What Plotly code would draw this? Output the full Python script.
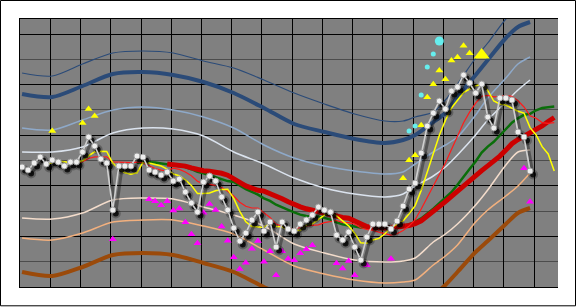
import plotly.graph_objects as go

# ---------------- data (values in chart units; x = bar index) ----------------
price = [120,117,124,130,123,127,125,121,125,125,
         135,150,141,128,124,77,121,121,121,131,
         130,117,115,112,115,106,108,95,84,75,
         105,111,106,90,77,59,46,54,67,75,
         56,65,40,65,58,56,63,67,72,80,
         77,75,52,47,55,40,27,50,63,63,
         63,58,66,81,98,104,134,161,174,186,
         178,196,200,212,204,194,203,170,159,189,
         189,187,155,150,116]
price_x = list(range(len(price)))

ma_yellow = [122.8,124.2,125.8,125.2,124.2,124.6,
             126.2,131.2,135.2,135.8,135.6,124,118.2,114.2,112.8,114.2,
             124.8,124,122.8,121,117.8,113,111.2,107.2,101.6,93.6,
             93.4,94,96.2,97.4,97.8,88.6,75.6,65.2,60.6,60.2,
             59.6,63.4,60.6,60.2,56.8,56.8,56.4,61.8,63.2,67.6,
             71.8,74.2,71.2,66.2,61.2,53.8,44.2,43.8,47,48.6,
             53.2,59.4,62.6,66.2,73.2,81.4,96.6,115.6,134.2,151.8,
             166.6,179,186.8,194.4,198,201.2,202.6,196.6,186,183,
             182,178.8,175.8,174,159.4,
             152,140.3,133,116]
ma_yellow_x = list(range(4, 4 + len(ma_yellow)))

ma_red_thin = [123.7,
               125.2,128.5,130.2,130,130.1,125.1,124.7,124.7,124.3,124.9,
               124.4,121.1,118.5,116.9,116,118.9,117.6,115,111.3,105.7,
               103.2,102.6,101.7,99.5,95.7,91,84.8,80.7,79,79,
               74.1,69.5,62.9,60.4,58.5,58.2,59.9,61.2,61.7,62.2,
               64.3,65.3,66.5,64.7,64.4,62.8,59.2,57.5,56.6,54.9,
               53.5,51.8,53.2,56.6,60.9,67.3,78,89.1,100.2,112.5,
               124,137.8,151.2,164.3,174.9,183.9,190.8,191.7,190.2,190.5,
               191.6,190.7,186.2,180,171.2,
               168.7,164.4,163.6,164.3]
ma_red_thin_x = list(range(9, 9 + len(ma_red_thin)))

ma_green = [124.3,
            124.8,124.8,124.4,123.5,123.1,122,121.2,119.9,117.8,115.3,
            113.8,111.9,110.1,108.2,105.9,105,101.2,97.9,95.2,92.4,
            88.7,86.1,82.3,80,77.1,74.6,72.4,71,70.4,70.6,
            69.2,67.4,64.7,62.6,61.5,60.5,59.6,59.4,59.2,58.6,
            58.9,58.6,59.9,60.7,62.7,65.1,68.6,73.3,78.4,83.7,
            88.8,94.8,102.2,110.5,117.9,125.6,134.4,140.4,145.2,151.5,
            157.8,164.3,168.7,172.2,173.1,
            176.7,179.1,180.1,180.5]
ma_green_x = list(range(19, 19 + len(ma_green)))

ma_red_thick = [123,122.4,122.1,120.9,119.1,117.2,
                116.3,115.7,115.1,113.7,111.8,108.8,104.6,101.1,98.7,96.7,
                95.9,93.6,90.4,88.2,85.2,82.3,80.1,78.2,76.6,75.2,
                74,72.7,71,69.5,68.7,66.1,62.8,60.5,59.4,58.9,
                59,59.5,60,60.6,61.5,63.4,66.2,71,75.4,80.5,
                85.4,90.7,96,101.6,106.6,111.2,116.4,121.1,125.6,130.9,
                136.9,143.3,147.5,151,153.1,
                156.8,161.1,165.5,169.5]
ma_red_thick_x = list(range(24, 24 + len(ma_red_thick)))

band_x = [0,5,10,15,20,25,30,35,40,45,50,55,60,63,65,68,70,72,75,77,80,82,84]
band_top_thin   = [214,211,223,234,236,234,226,219,207,194,183,173,166,166,170,175,187,203,229,244,268,279,287]
band_top_thick  = [193,190,201,213,215,212,205,194,179,163,155,148,144,147,152,165,174,190,212,227,249,260,265]
band_light_blue = [159,157,167,177,180,177,170,159,142,129,121,116,113,115,123,135,142,150,172,189,209,223,230]
band_whitish    = [135,135,140,154,159,158,151,135,123,109,99,93,90,93,101,111,120,132,152,167,185,197,207]
band_light_peach= [69,68,74,87,89,88,80,72,61,43,34,27,25,26,29,45,53,63,82,97,122,135,137]
band_peach      = [49,47,54,65,67,67,61,53,37,21,13,7,4,5,7,22,31,42,65,77,91,101,114]
band_brown      = [15,11,20,32,34,32,24,15,0,-13,-19,-23,-25,-24,-18,-8,2,15,35,46,63,74,79]

buy_x = [5,10,11,12,63,64,65,66,67,68,69,70,71,72,73,74]
buy_y = [156,164,178,171,108.7,126.7,131.7,161.7,189.7,202.7,216.5,207.7,226.5,229.7,241.3,233.7]
buy_big_x = [76]
buy_big_y = [232]

cyan_x = [64,65,66,67,68]
cyan_y = [156,161,192,220,233]
cyan_big_x = [69]
cyan_big_y = [246]

sell_x = [15,21,22,23,24,25,26,27,28,29,30,31,32,33,34,35,36,37,38,39,40,41,42,43,44,45,46,47,48,
          52,53,54,55,57,61,83,84]
sell_y = [47.7,87.7,85.7,81.7,85.8,76.5,78.5,64.7,52.7,43.7,74.3,83,77,60.5,46.3,29.7,18,24.3,38.3,46,
          25.3,35.8,11.7,35.8,28.3,26.7,33.7,37.7,41.7,23.7,18.5,26,11.7,21.7,28.3,118.7,85.3]

# ---------------- figure ----------------
fig = go.Figure()

def band(x, y, color, width):
    fig.add_trace(go.Scatter(x=x, y=y, mode="lines",
                             line=dict(color=color, width=width, shape="spline", smoothing=0.8),
                             hoverinfo="skip", showlegend=False))

band(band_x, band_top_thin, "#2b4b78", 1.2)
band(band_x, band_top_thick, "#2b4b78", 4)
band(band_x, band_light_blue, "#8ea9c9", 1.5)
band(band_x, band_whitish, "#dbe3ee", 1.5)
band(band_x, band_light_peach, "#f3dccb", 1.5)
band(band_x, band_peach, "#f2b07e", 1.5)
band(band_x, band_brown, "#9b4a0a", 4)

def ma(x, y, color, width):
    fig.add_trace(go.Scatter(x=x, y=y, mode="lines", line=dict(color=color, width=width),
                             hoverinfo="skip", showlegend=False))

ma(ma_green_x, ma_green, "#0a6e0a", 2.5)
ma(ma_red_thick_x, ma_red_thick, "#cc0000", 5)
ma(ma_red_thin_x, ma_red_thin, "#ff1a1a", 1.2)
ma(ma_yellow_x, ma_yellow, "#ffff00", 1.5)

def marks(x, y, symbol, color, size):
    fig.add_trace(go.Scatter(x=x, y=y, mode="markers",
                             marker=dict(symbol=symbol, color=color, size=size, line=dict(width=0)),
                             hoverinfo="skip", showlegend=False))

marks(sell_x, sell_y, "triangle-up", "#ff00ff", 7)
marks(buy_x, buy_y, "triangle-up", "#ffff00", 7)
marks(buy_big_x, buy_big_y, "triangle-up", "#ffff00", 14)
marks(cyan_x, cyan_y, "circle", "#66eeee", 5)
marks(cyan_big_x, cyan_big_y, "circle", "#66eeee", 9)

# shadow of price (overlay axes shifted a few pixels right/down)
fig.add_trace(go.Scatter(x=price_x, y=price, xaxis="x2", yaxis="y2", mode="lines+markers",
                         line=dict(color="rgba(0,0,0,0.35)", width=3),
                         marker=dict(color="rgba(0,0,0,0.25)", size=10, line=dict(width=0)),
                         hoverinfo="skip", showlegend=False))
fig.add_trace(go.Scatter(x=price_x, y=price, xaxis="x2", yaxis="y2", mode="markers",
                         marker=dict(color="rgba(0,0,0,0.8)", size=6, line=dict(width=0)),
                         hoverinfo="skip", showlegend=False))
# price line + points
fig.add_trace(go.Scatter(x=price_x, y=price, xaxis="x3", yaxis="y3", mode="lines+markers",
                         line=dict(color="#cfcfcf", width=1.6),
                         marker=dict(color="#eeeeee", size=6, line=dict(color="#9a9a9a", width=1)),
                         hoverinfo="skip", showlegend=False))

xr = [-0.34, 88.62]
yr = [0, 268]
px_per_x = 538 / (xr[1] - xr[0])
sx, sy = 3 / px_per_x, 3.5

fig.update_layout(
    width=576, height=307,
    margin=dict(l=20, r=18, t=19, b=20),
    paper_bgcolor="white", plot_bgcolor="#808080",
    showlegend=False,
    xaxis=dict(range=xr, showgrid=True, gridcolor="black", gridwidth=1, tick0=-0.33, dtick=5,
               showticklabels=False, ticks="", zeroline=False,
               showline=True, linecolor="black", linewidth=1, mirror=True),
    yaxis=dict(range=yr, showgrid=True, gridcolor="black", gridwidth=1, tick0=0, dtick=50.6,
               minor=dict(tick0=0, dtick=25.3, showgrid=True, gridcolor="#4c4c4c", gridwidth=1),
               showticklabels=False, ticks="", zeroline=False,
               showline=True, linecolor="black", linewidth=1, mirror=False),
    xaxis2=dict(overlaying="x", range=[xr[0] - sx, xr[1] - sx], visible=False, anchor="y2"),
    yaxis2=dict(overlaying="y", range=[yr[0] + sy, yr[1] + sy], visible=False, anchor="x2"),
    xaxis3=dict(overlaying="x", range=xr, visible=False, anchor="y3"),
    yaxis3=dict(overlaying="y", range=yr, visible=False, anchor="x3"),
    shapes=[dict(type="rect", xref="paper", yref="paper",
                 x0=(0.5 - 20) / 538, x1=(575.5 - 20) / 538,
                 y0=(287 - 305.8) / 268, y1=(287 - 0.5) / 268,
                 line=dict(color="black", width=1), fillcolor="rgba(0,0,0,0)", layer="above")],
)

fig.write_html("out.html")
